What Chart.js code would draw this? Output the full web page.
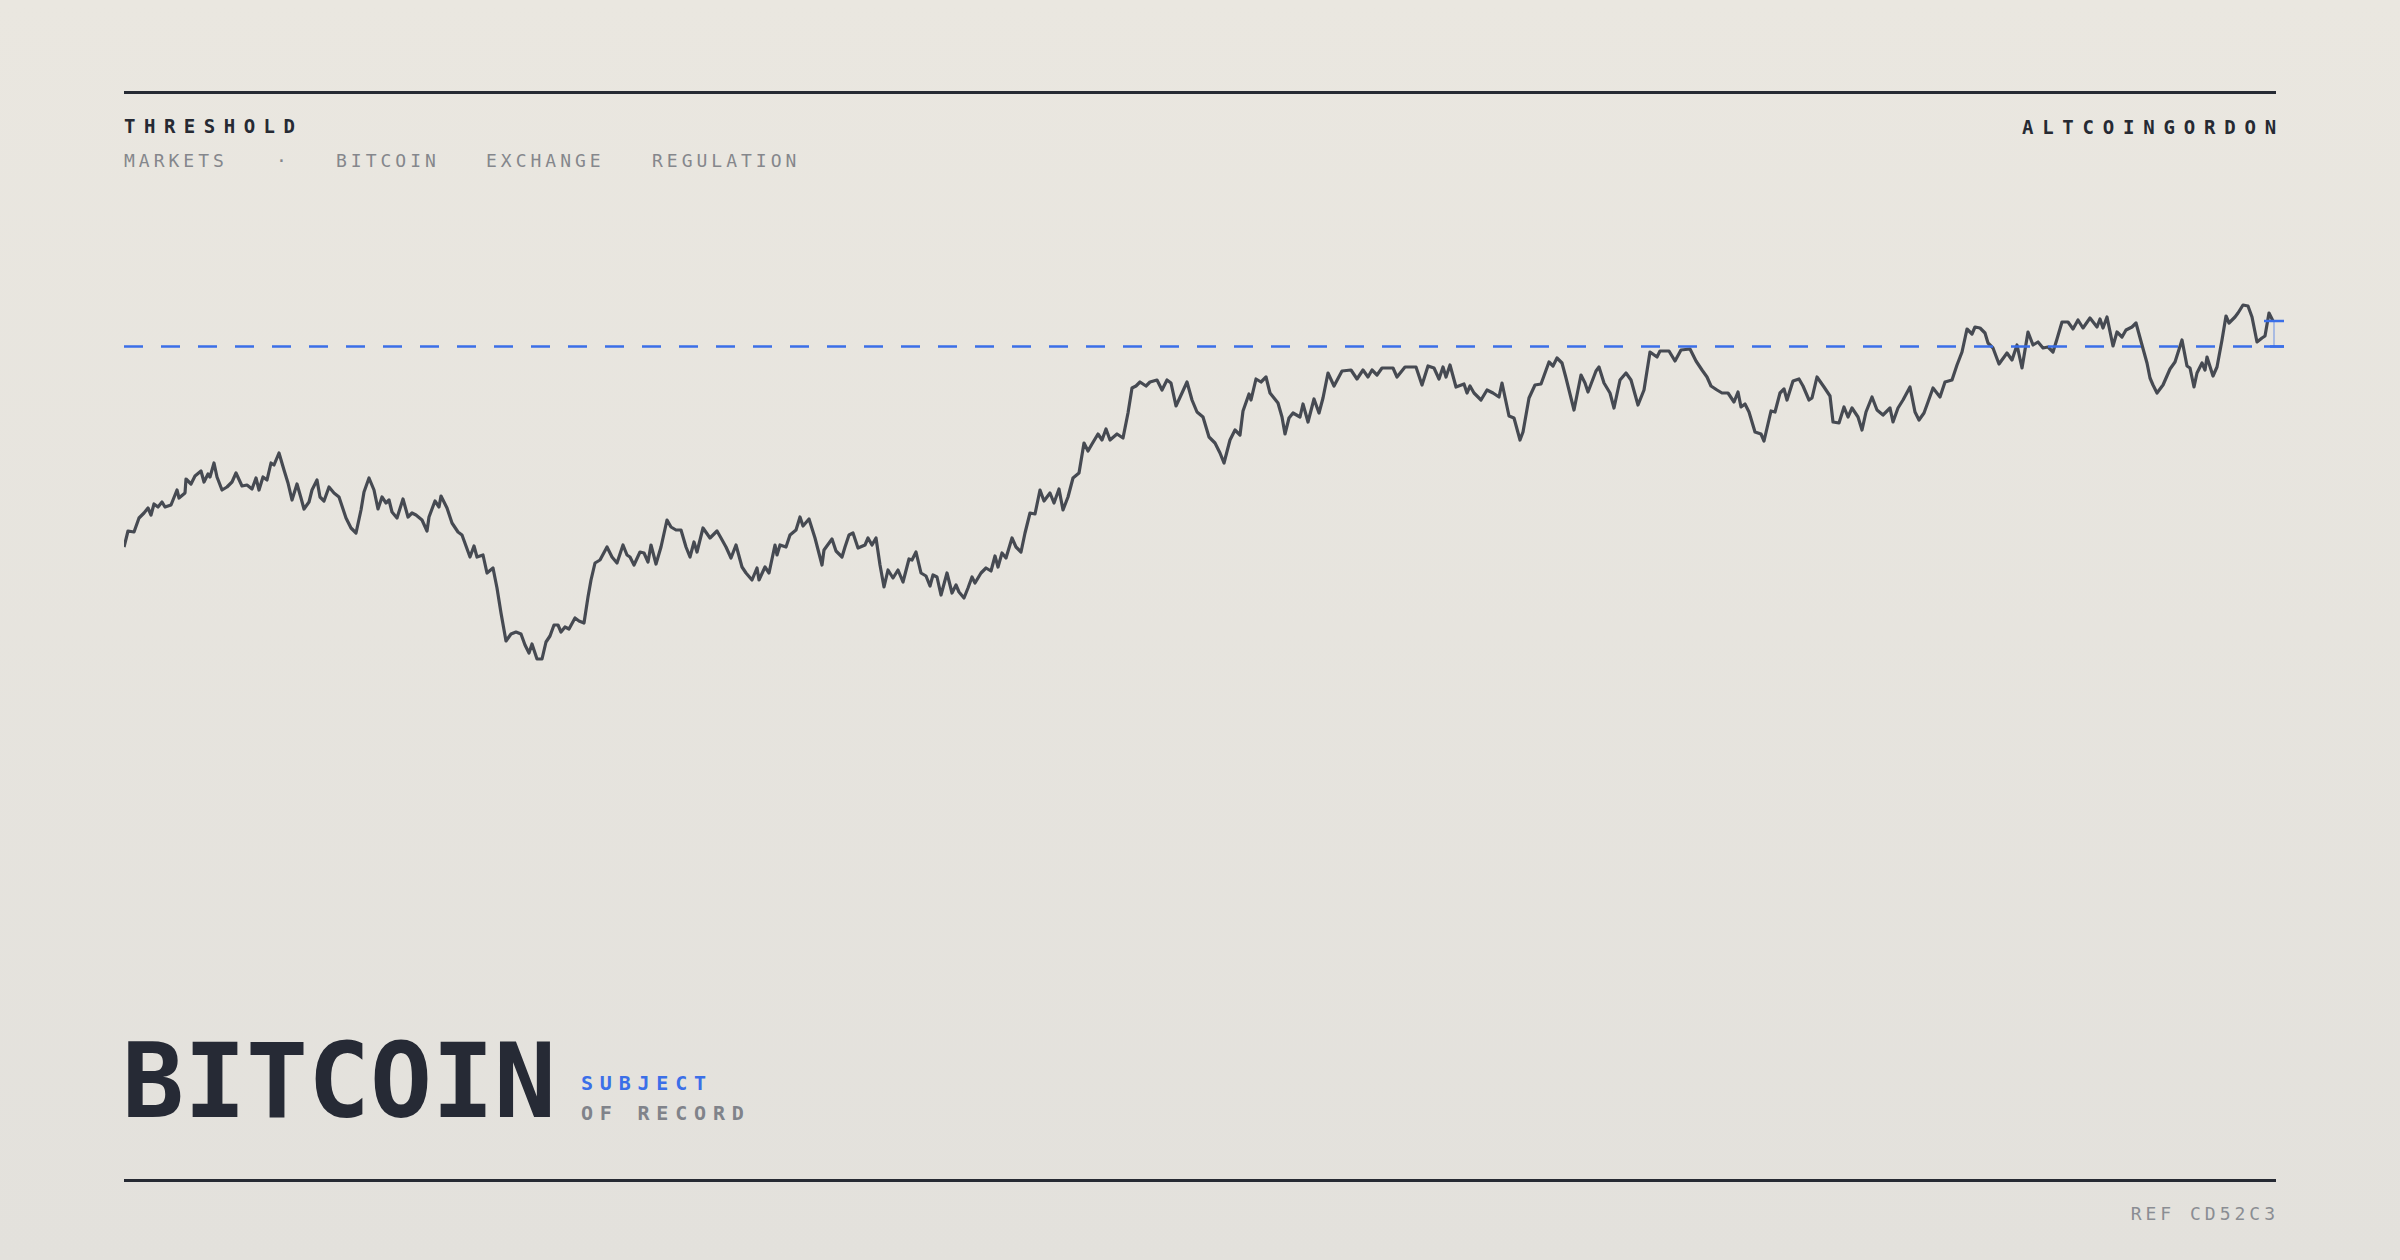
<!DOCTYPE html>
<html><head><meta charset="utf-8">
<script src="https://cdn.jsdelivr.net/npm/chart.js@4.4.1/dist/chart.umd.min.js"></script>
<style>
html,body{margin:0;padding:0}
body{width:2400px;height:1260px;position:relative;overflow:hidden;background:linear-gradient(#eae7e0,#e3e1dc);font-family:"DejaVu Sans Mono",monospace}
.t{position:absolute;line-height:1;white-space:nowrap}
.rule{position:absolute;left:124px;width:2152px;height:3px;background:#262a33}
#wrap{position:absolute;left:124px;top:200px;width:2170px;height:500px}
</style></head><body>
<div class="rule" style="top:91px"></div>
<div class="t" style="left:124px;top:117px;font-size:19px;font-weight:bold;letter-spacing:8.5px;color:#262a33">THRESHOLD</div>
<div class="t" style="right:115px;top:118px;font-size:19px;font-weight:bold;letter-spacing:8.8px;color:#262a33">ALTCOINGORDON</div>
<div class="t" style="left:124px;top:152px;font-size:18px;letter-spacing:4px;color:#85878c">MARKETS</div>
<div class="t" style="left:276px;top:152px;font-size:18px;color:#85878c">·</div>
<div class="t" style="left:336px;top:152px;font-size:18px;letter-spacing:4px;color:#85878c">BITCOIN</div>
<div class="t" style="left:486px;top:152px;font-size:18px;letter-spacing:4px;color:#85878c">EXCHANGE</div>
<div class="t" style="left:652px;top:152px;font-size:18px;letter-spacing:4px;color:#85878c">REGULATION</div>
<div id="wrap"><canvas id="c"></canvas></div>
<div class="t" style="left:122px;top:1030px;font-size:103px;font-weight:bold;letter-spacing:0px;color:#262a35">BITCOIN</div>
<div class="t" style="left:581px;top:1073px;font-size:20px;font-weight:bold;letter-spacing:6.8px;color:#3b6fe8">SUBJECT</div>
<div class="t" style="left:581px;top:1103px;font-size:20px;font-weight:bold;letter-spacing:6.8px;color:#80838a">OF RECORD</div>
<div class="rule" style="top:1179px"></div>
<div class="t" style="right:121px;top:1205px;font-size:18px;letter-spacing:4px;color:#8a8d93">REF CD52C3</div>
<script>
const days=[0,4,10,15,20,24,27,30,34,38,41,47,53,55,61,62,67,71,77,80,84,86,90,93,98,103,108,112,118,123,128,132,135,139,143,147,150,155,160,164,168,173,177,180,185,188,193,196,200,205,210,215,219,222,227,232,237,240,245,250,254,258,262,265,268,273,279,284,288,292,298,303,305,311,315,317,323,328,334,338,346,350,353,359,363,369,373,377,382,387,392,397,401,405,408,413,418,422,426,430,434,437,441,445,451,455,460,464,467,471,476,483,488,493,499,503,506,510,516,520,524,527,532,537,543,547,552,557,562,566,570,573,579,586,
593,597,602,607,612,618,622,628,633,635,641,645,651,653,656,662,666,672,676,679,685,691,698,700,708,712,718,721,725,729,734,741,744,748,752,756,760,764,769,774,779,785,788,792,797,802,806,809,813,817,823,828,832,835,840,844,848,851,857,862,867,871,874,878,882,888,892,897,901,906,911,916,920,926,930,935,939,944,949,955,960,964,968,974,978,982,986,993,999,1004,1008,1012,1016,1022,1026,1033,1038,1043,1047,1052,1058,1063,1068,1073,1079,1085,1091,1096,1100,1106,1111,1116,1119,1125,1127,1132,1137,1142,1146,1154,1158,1161,1165,1169,1176,
1179,1184,1190,1195,1199,1204,1210,1218,1227,1233,1239,1244,1248,1253,1258,1269,1273,1281,1292,1298,1304,1310,1315,1319,1322,1326,1332,1340,1343,1346,1350,1357,1363,1369,1375,1378,1385,1390,1396,1399,1405,1411,1417,1425,1429,1433,1438,1442,1450,1457,1461,1464,1472,1475,1480,1486,1490,1496,1502,1507,1514,1520,1526,1533,1536,1545,1551,1557,1566,1572,1578,1583,1587,1593,1598,1604,1610,1614,1617,1621,1625,1631,1637,1640,1647,1651,1656,1660,1663,1669,1675,1679,1685,1688,1693,1700,1706,1709,1715,1720,1724,1728,1734,1738,1742,1748,1753,1759,1766,
1769,1774,1779,1786,1791,1795,1800,1804,1809,1816,1821,1828,1833,1838,1843,1848,1851,1856,1861,1864,1869,1875,1883,1888,1893,1898,1904,1909,1914,1919,1924,1929,1933,1938,1944,1949,1954,1959,1966,1973,1976,1979,1983,1989,1993,1998,2002,2008,2012,2018,2023,2026,2029,2033,2039,2046,2051,2058,2063,2066,2070,2073,2078,2081,2083,2089,2093,2098,2102,2105,2111,2114,2119,2124,2128,2133,2138,2141,2145,2149];
const prices=[153,169,168,182,187,192,185,196,193,198,193,195,210,202,207,221,216,224,229,218,226,223,237,223,210,213,218,227,214,215,211,222,210,223,220,237,235,247,230,217,200,216,202,191,198,210,220,203,199,213,207,203,191,182,172,167,190,208,222,210,191,203,197,200,188,182,201,183,187,185,180,169,183,199,193,204,192,177,168,165,143,154,143,145,127,132,112,87,59,66,68,66,55,47,56,41,41,58,64,75,75,68,73,71,82,79,77,103,120,137,140,153,143,137,155,145,143,135,148,147,138,155,136,153,180,173,170,170,153,143,158,148,172,162,
169,162,153,142,155,133,127,120,132,120,133,127,155,145,155,153,165,170,183,174,181,162,135,150,161,149,143,153,165,167,152,155,162,155,162,135,113,130,122,130,118,141,140,148,127,124,114,125,123,105,127,107,115,108,102,112,123,117,127,132,129,144,133,147,142,162,153,148,167,187,186,210,199,207,197,211,190,203,222,227,257,249,256,266,260,271,260,266,262,287,312,314,318,314,318,320,310,320,317,294,307,318,300,288,283,263,257,247,237,260,270,265,289,306,300,321,318,323,307,297,283,266,282,287,283,
296,278,301,287,302,327,314,329,330,321,330,323,330,325,332,332,323,333,333,315,334,332,321,333,323,335,313,316,307,314,307,300,310,307,303,317,284,282,260,268,302,315,316,338,334,342,337,322,290,325,317,308,329,333,317,307,292,320,327,320,295,310,348,343,349,349,339,350,351,339,330,323,314,310,307,307,298,308,293,296,288,268,266,259,289,288,307,311,300,319,321,314,300,302,323,313,304,278,277,293,283,292,283,270,288,303,290,285,292,
278,292,300,313,288,280,287,298,312,303,318,320,335,348,371,366,373,372,367,357,352,336,347,340,355,332,368,355,358,352,353,348,361,378,378,371,380,372,382,373,381,372,383,354,368,363,370,373,377,355,337,322,315,307,315,331,338,360,334,332,313,327,337,330,343,324,333,360,384,377,383,387,395,394,383,358,362,364,387,379];
const threshold=354;

const guides={id:'guides',afterDatasetsDraw(ch){
  const {ctx,chartArea:a,scales:{x,y}}=ch;
  const ty=Math.round(y.getPixelForValue(threshold))+0.5;
  ctx.save();
  ctx.strokeStyle='#3b6fe8';ctx.lineWidth=2.5;ctx.setLineDash([19,18]);
  ctx.beginPath();ctx.moveTo(a.left,ty);ctx.lineTo(a.right+11,ty);ctx.stroke();
  ctx.setLineDash([]);
  const last=prices[prices.length-1];
  const ly=y.getPixelForValue(last);
  const lx=x.getPixelForValue(days[days.length-1]);
  ctx.beginPath();ctx.moveTo(lx-9,ly);ctx.lineTo(lx+11,ly);ctx.stroke();
  ctx.beginPath();ctx.moveTo(lx-9,ty);ctx.lineTo(lx+11,ty);ctx.stroke();
  ctx.strokeStyle='rgba(59,111,232,0.6)';ctx.lineWidth=1.2;
  ctx.beginPath();ctx.moveTo(lx+1,ly);ctx.lineTo(lx+1,ty);ctx.stroke();
  ctx.restore();
}};

new Chart(document.getElementById('c'),{
  type:'line',
  data:{datasets:[{data:days.map((d,i)=>({x:d,y:prices[i]})),borderColor:'#464a52',borderWidth:3.2,pointRadius:0,tension:0,clip:false,borderJoinStyle:'round'}]},
  options:{responsive:true,maintainAspectRatio:false,animation:false,
    layout:{padding:{left:0,right:21,top:0,bottom:0}},
    plugins:{legend:{display:false},tooltip:{enabled:false}},
    scales:{x:{type:'linear',min:0,max:2149,display:false},y:{min:0,max:500,display:false}}},
  plugins:[guides]
});
</script>
</body></html>
